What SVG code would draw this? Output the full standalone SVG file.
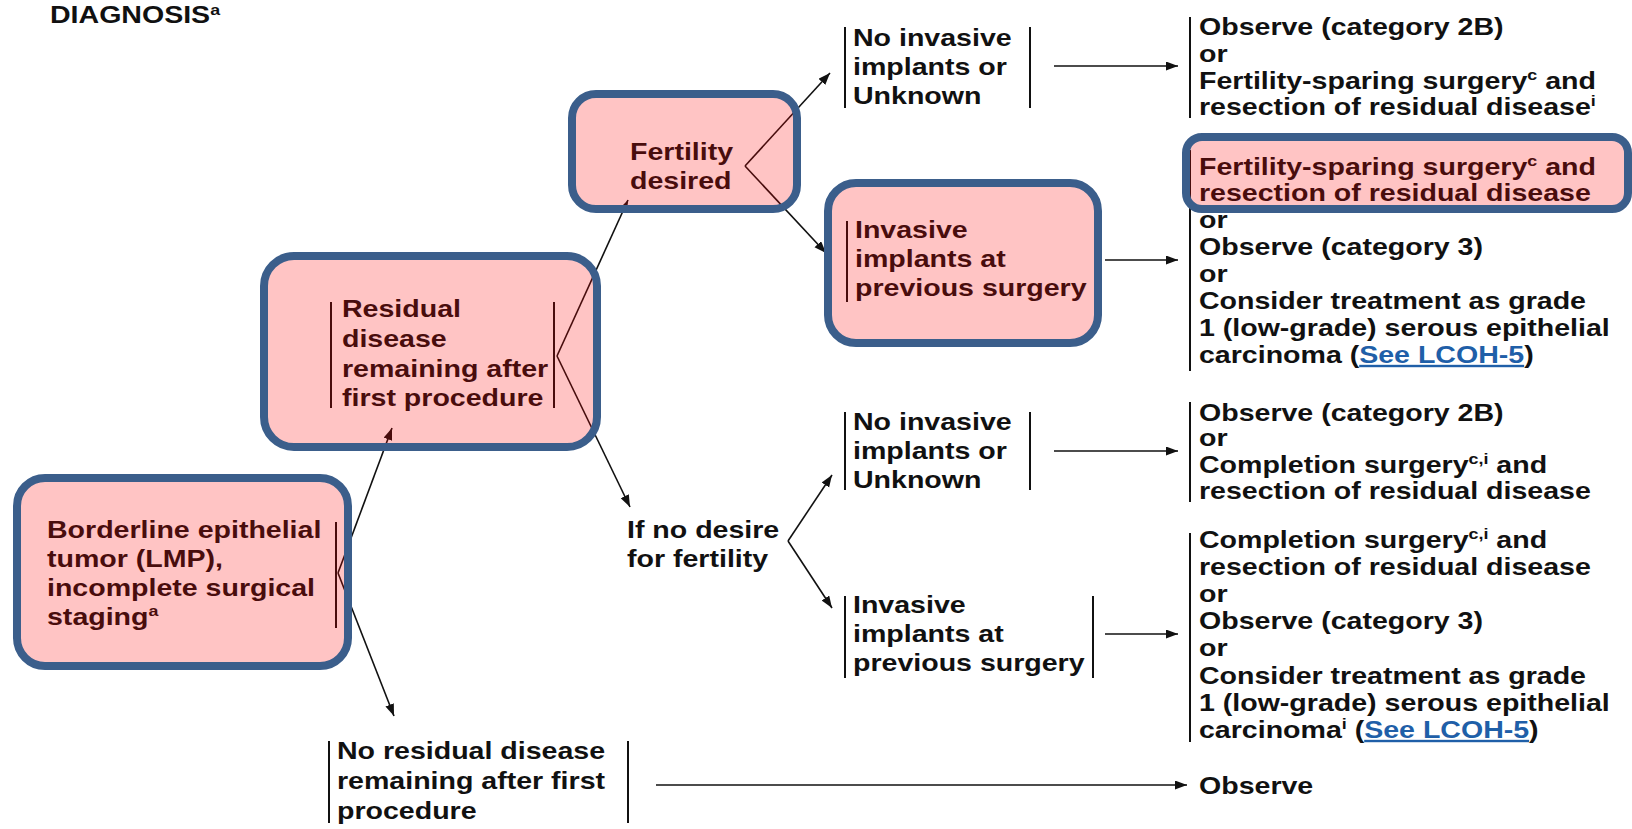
<svg xmlns="http://www.w3.org/2000/svg" width="1632" height="829" viewBox="0 0 1632 829">
<style>
.t{font-family:"Liberation Sans",Arial,Helvetica,sans-serif;font-weight:bold;font-size:24px;fill:#111}
.s{font-size:15px}
.lk{fill:#1f5fa8;text-decoration:underline}
.bar{stroke:#111;stroke-width:2;fill:none}
.ca{stroke:#111;stroke-width:1.6;fill:none;marker-end:url(#ah)}
.ov{fill:#ff0000;fill-opacity:0.23;stroke:none}
.bd{fill:none;stroke:#3b5e8b;stroke-width:8}
</style>
<defs>
<marker id="ah" markerUnits="userSpaceOnUse" markerWidth="14" markerHeight="10" refX="12" refY="4.5" orient="auto"><path d="M0,0 L12,4.5 L0,9 z" fill="#111"/></marker>
</defs>
<rect width="1632" height="829" fill="#ffffff"/>

<g id="connectors">
<path class="ca" d="M338,573 L392,428"/>
<path class="ca" d="M338,573 L394,716"/>
<path class="ca" d="M557,356 L628,200"/>
<path class="ca" d="M557,356 L630,507"/>
<path class="ca" d="M745,166 L830,73"/>
<path class="ca" d="M745,166 L826,253"/>
<path class="ca" d="M788,541 L832,475"/>
<path class="ca" d="M788,541 L832,608"/>
<path class="ca" d="M1054,66 H1178"/>
<path class="ca" d="M1105,260 H1178"/>
<path class="ca" d="M1054,451 H1178"/>
<path class="ca" d="M1105,634 H1178"/>
<path class="ca" d="M656,785 H1187"/>
</g>

<g id="title">
<g transform="translate(50,0) scale(1.19,1)"><text class="t" y="23" style="font-size:24px">DIAGNOSIS<tspan class="s" dy="-8">a</tspan></text></g>
</g>

<g id="n-borderline">
<g transform="translate(47,0) scale(1.19,1)">
<text class="t" y="538">Borderline epithelial</text>
<text class="t" y="567">tumor (LMP),</text>
<text class="t" y="596">incomplete surgical</text>
<text class="t" y="625">staging<tspan class="s" dy="-9">a</tspan></text>
</g>
<line class="bar" x1="336" y1="522" x2="336" y2="628"/>
<rect class="ov" x="17" y="478" width="331" height="188" rx="28"/>
<rect class="bd" x="17" y="478" width="331" height="188" rx="28"/>
</g>

<g id="n-residual">
<g transform="translate(342,0) scale(1.19,1)">
<text class="t" y="317">Residual</text>
<text class="t" y="347">disease</text>
<text class="t" y="377">remaining after</text>
<text class="t" y="406">first procedure</text>
</g>
<line class="bar" x1="331" y1="302" x2="331" y2="408"/>
<line class="bar" x1="554" y1="302" x2="554" y2="408"/>
<rect class="ov" x="264" y="256" width="333" height="191" rx="30"/>
<rect class="bd" x="264" y="256" width="333" height="191" rx="30"/>
</g>

<g id="n-fertility">
<g transform="translate(630,0) scale(1.19,1)">
<text class="t" y="160">Fertility</text>
<text class="t" y="189">desired</text>
</g>
<rect class="ov" x="572" y="94" width="225" height="115" rx="24"/>
<rect class="bd" x="572" y="94" width="225" height="115" rx="24"/>
</g>

<g id="n-nodesire">
<g transform="translate(627,0) scale(1.19,1)">
<text class="t" y="538">If no desire</text>
<text class="t" y="567">for fertility</text>
</g>
</g>

<g id="n-noinv1">
<line class="bar" x1="845" y1="27" x2="845" y2="108"/>
<line class="bar" x1="1030" y1="27" x2="1030" y2="108"/>
<g transform="translate(853,0) scale(1.19,1)">
<text class="t" y="46">No invasive</text>
<text class="t" y="75">implants or</text>
<text class="t" y="104">Unknown</text>
</g>
</g>

<g id="n-inv1">
<g transform="translate(855,0) scale(1.19,1)">
<text class="t" y="238">Invasive</text>
<text class="t" y="267">implants at</text>
<text class="t" y="296">previous surgery</text>
</g>
<line class="bar" x1="847" y1="221" x2="847" y2="302"/>
<line class="bar" x1="1095" y1="221" x2="1095" y2="302"/>
<rect class="ov" x="828" y="183" width="270" height="160" rx="28"/>
<rect class="bd" x="828" y="183" width="270" height="160" rx="28"/>
</g>

<g id="n-noinv2">
<line class="bar" x1="845" y1="412" x2="845" y2="490"/>
<line class="bar" x1="1030" y1="412" x2="1030" y2="490"/>
<g transform="translate(853,0) scale(1.19,1)">
<text class="t" y="430">No invasive</text>
<text class="t" y="459">implants or</text>
<text class="t" y="488">Unknown</text>
</g>
</g>

<g id="n-inv2">
<line class="bar" x1="845" y1="596" x2="845" y2="678"/>
<line class="bar" x1="1093" y1="596" x2="1093" y2="678"/>
<g transform="translate(853,0) scale(1.19,1)">
<text class="t" y="613">Invasive</text>
<text class="t" y="642">implants at</text>
<text class="t" y="671">previous surgery</text>
</g>
</g>

<g id="n-nores">
<line class="bar" x1="329" y1="741" x2="329" y2="823"/>
<line class="bar" x1="628" y1="741" x2="628" y2="823"/>
<g transform="translate(337,0) scale(1.19,1)">
<text class="t" y="759">No residual disease</text>
<text class="t" y="789">remaining after first</text>
<text class="t" y="819">procedure</text>
</g>
</g>

<g id="n-out1">
<line class="bar" x1="1190" y1="17" x2="1190" y2="118"/>
<g transform="translate(1199,0) scale(1.19,1)">
<text class="t" y="35">Observe (category 2B)</text>
<text class="t" y="62">or</text>
<text class="t" y="89">Fertility-sparing surgery<tspan class="s" dy="-9">c</tspan><tspan dy="9"> and</tspan></text>
<text class="t" y="115">resection of residual disease<tspan class="s" dy="-9">i</tspan></text>
</g>
</g>

<g id="n-out2">
<line class="bar" x1="1190" y1="150" x2="1190" y2="371"/>
<g transform="translate(1199,0) scale(1.19,1)">
<text class="t" y="228">or</text>
<text class="t" y="255">Observe (category 3)</text>
<text class="t" y="282">or</text>
<text class="t" y="309">Consider treatment as grade</text>
<text class="t" y="336">1 (low-grade) serous epithelial</text>
<text class="t" y="363">carcinoma (<tspan class="lk">See LCOH-5</tspan>)</text>
</g>
</g>

<g id="n-out2-highlight">
<g transform="translate(1199,0) scale(1.19,1)">
<text class="t" y="175">Fertility-sparing surgery<tspan class="s" dy="-9">c</tspan><tspan dy="9"> and</tspan></text>
<text class="t" y="201">resection of residual disease</text>
</g>
<rect class="ov" x="1186" y="137" width="442" height="72" rx="16"/>
<rect class="bd" x="1186" y="137" width="442" height="72" rx="16"/>
</g>

<g id="n-out3">
<line class="bar" x1="1190" y1="402" x2="1190" y2="502"/>
<g transform="translate(1199,0) scale(1.19,1)">
<text class="t" y="421">Observe (category 2B)</text>
<text class="t" y="446">or</text>
<text class="t" y="473">Completion surgery<tspan class="s" dy="-9">c,i</tspan><tspan dy="9"> and</tspan></text>
<text class="t" y="499">resection of residual disease</text>
</g>
</g>

<g id="n-out4">
<line class="bar" x1="1190" y1="533" x2="1190" y2="742"/>
<g transform="translate(1199,0) scale(1.19,1)">
<text class="t" y="548">Completion surgery<tspan class="s" dy="-9">c,i</tspan><tspan dy="9"> and</tspan></text>
<text class="t" y="575">resection of residual disease</text>
<text class="t" y="602">or</text>
<text class="t" y="629">Observe (category 3)</text>
<text class="t" y="656">or</text>
<text class="t" y="684">Consider treatment as grade</text>
<text class="t" y="711">1 (low-grade) serous epithelial</text>
<text class="t" y="738">carcinoma<tspan class="s" dy="-9">i</tspan><tspan dy="9"> (</tspan><tspan class="lk">See LCOH-5</tspan>)</text>
</g>
</g>

<g id="n-out5">
<g transform="translate(1199,0) scale(1.19,1)">
<text class="t" y="794">Observe</text>
</g>
</g>
</svg>
